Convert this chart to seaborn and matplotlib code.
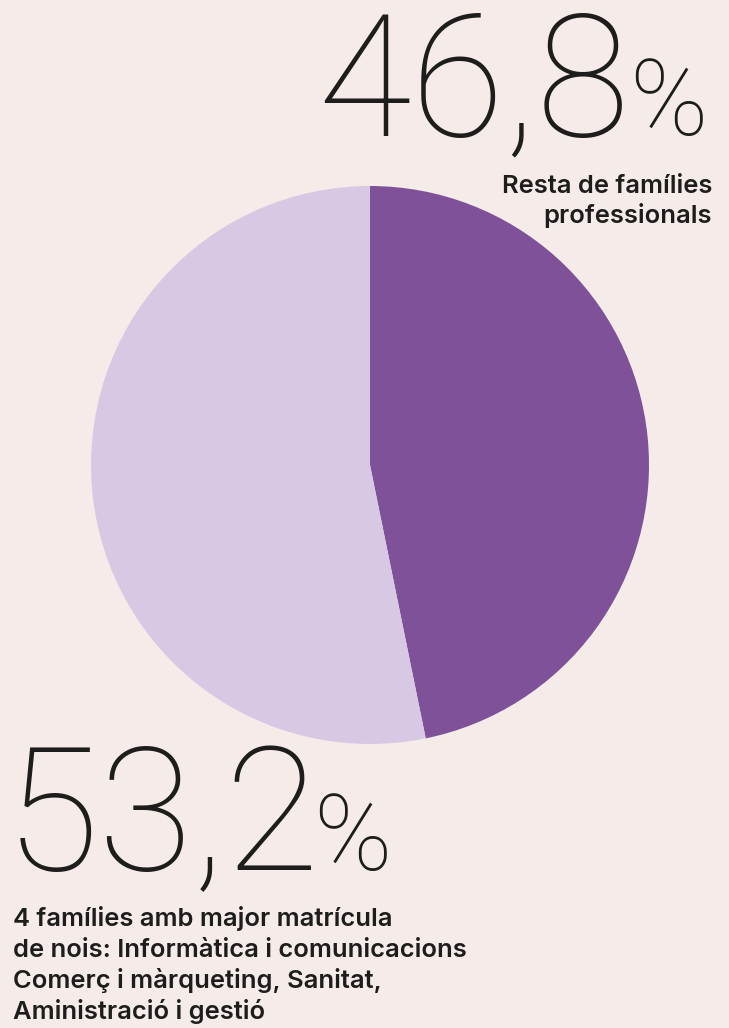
import matplotlib
matplotlib.use("Agg")
import matplotlib.pyplot as plt
import seaborn as sns

# Data
labels = ["Resta de famílies professionals",
          "4 famílies amb major matrícula de nois"]
shares = [46.8, 53.2]
big_labels = ["46,8", "53,2"]
colors = ["#7e5199", "#d7c9e3"]
bg = "#f5ecea"
ink = "#1d1d1b"

sns.set_theme(style="white")
plt.rcParams["font.family"] = ["Roboto", "DejaVu Sans"]

W, H = 729, 1028
fig = plt.figure(figsize=(W / 100, H / 100), dpi=100, facecolor=bg)

# pie: centre (370, 465), radius 279 px
cx, cy, r = 370, 465, 279
ax = fig.add_axes([(cx - r) / W, 1 - (cy + r) / H, 2 * r / W, 2 * r / H])
ax.set_facecolor(bg)
ax.pie(shares, colors=colors, startangle=90, counterclock=False,
       radius=1, wedgeprops=dict(linewidth=0))
ax.set_xlim(-1, 1)
ax.set_ylim(-1, 1)
ax.axis("off")


def put(x, y, s, **kw):
    fig.text(x / W, 1 - y / H, s, va="baseline", color=ink, **kw)


small = dict(fontsize=18.4, fontweight="semibold", family=["Inter", "DejaVu Sans"])

# top number
put(630, 135, big_labels[0], ha="right", fontsize=123, fontweight="light")
put(708, 135, "%", ha="right", fontsize=76, fontweight="light")
put(712, 193, "Resta de famílies", ha="right", **small)
put(712, 223, "professionals", ha="right", **small)

# bottom number
put(5, 870, big_labels[1], ha="left", fontsize=124, fontweight="light")
put(392, 870, "%", ha="right", fontsize=76, fontweight="light")
lines = ["4 famílies amb major matrícula",
         "de nois: Informàtica i comunicacions",
         "Comerç i màrqueting, Sanitat,",
         "Aministració i gestió"]
for i, ln in enumerate(lines):
    put(13, 926 + i * 31, ln, ha="left", **small)

fig.savefig("out.png", dpi=100, facecolor=bg)
